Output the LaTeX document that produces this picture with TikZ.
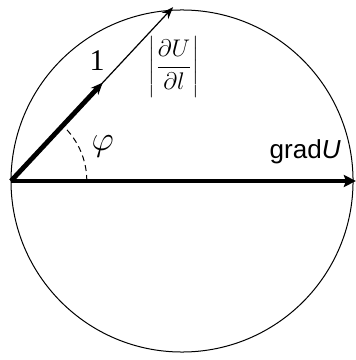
\documentclass[tikz,border=0pt]{standalone}
\usepackage{fontspec}
\setmainfont{Liberation Serif}
\setsansfont{Liberation Sans}
\usetikzlibrary{arrows.meta,calc}

\begin{document}
\begin{tikzpicture}[>=Stealth]
\tikzstyle{thin}=[line width=0.5pt]
\tikzstyle{lbl}=[inner sep=0pt]
\useasboundingbox (-3.193,-3.14) rectangle (3.035,3.175);
\draw[thin] (0,0) circle (3);
\coordinate (o) at (-3,0);
\coordinate (g) at (3.05,0);
\coordinate (t) at ($(o)+(47:4.17)$);
\coordinate (u) at ($(o)+(47:2.36)$);
\draw[line width=0.6pt,-{Stealth[length=6pt,width=4.5pt]}] (o) -- (t);
\draw[line width=2.4pt,-{Stealth[length=6pt,width=5pt]}] (o) -- (u);
\draw[line width=1.6pt,-{Stealth[length=6pt,width=6pt,inset=1pt]}] (o) -- (g);
\draw[thin,dashed,dash pattern=on 3pt off 2pt] ($(o)+(1.33,0)$) arc (0:47:1.33);
\node[lbl,font=\fontsize{15}{18}\selectfont] (l) at (-1.49,2.12) {1};
\node[lbl,font=\fontsize{13}{16}\selectfont] (d) at (-0.14,2.0) {$\displaystyle\left|\frac{\partial U}{\partial l}\right|$};
\node[lbl,font=\fontsize{17}{20}\selectfont] (phi) at (-1.39,0.61) {$\varphi$};
\node[lbl,font=\fontsize{13}{16}\selectfont\sffamily] (grad) at (2.16,0.51) {grad\textit{U}};
\end{tikzpicture}
\end{document}
